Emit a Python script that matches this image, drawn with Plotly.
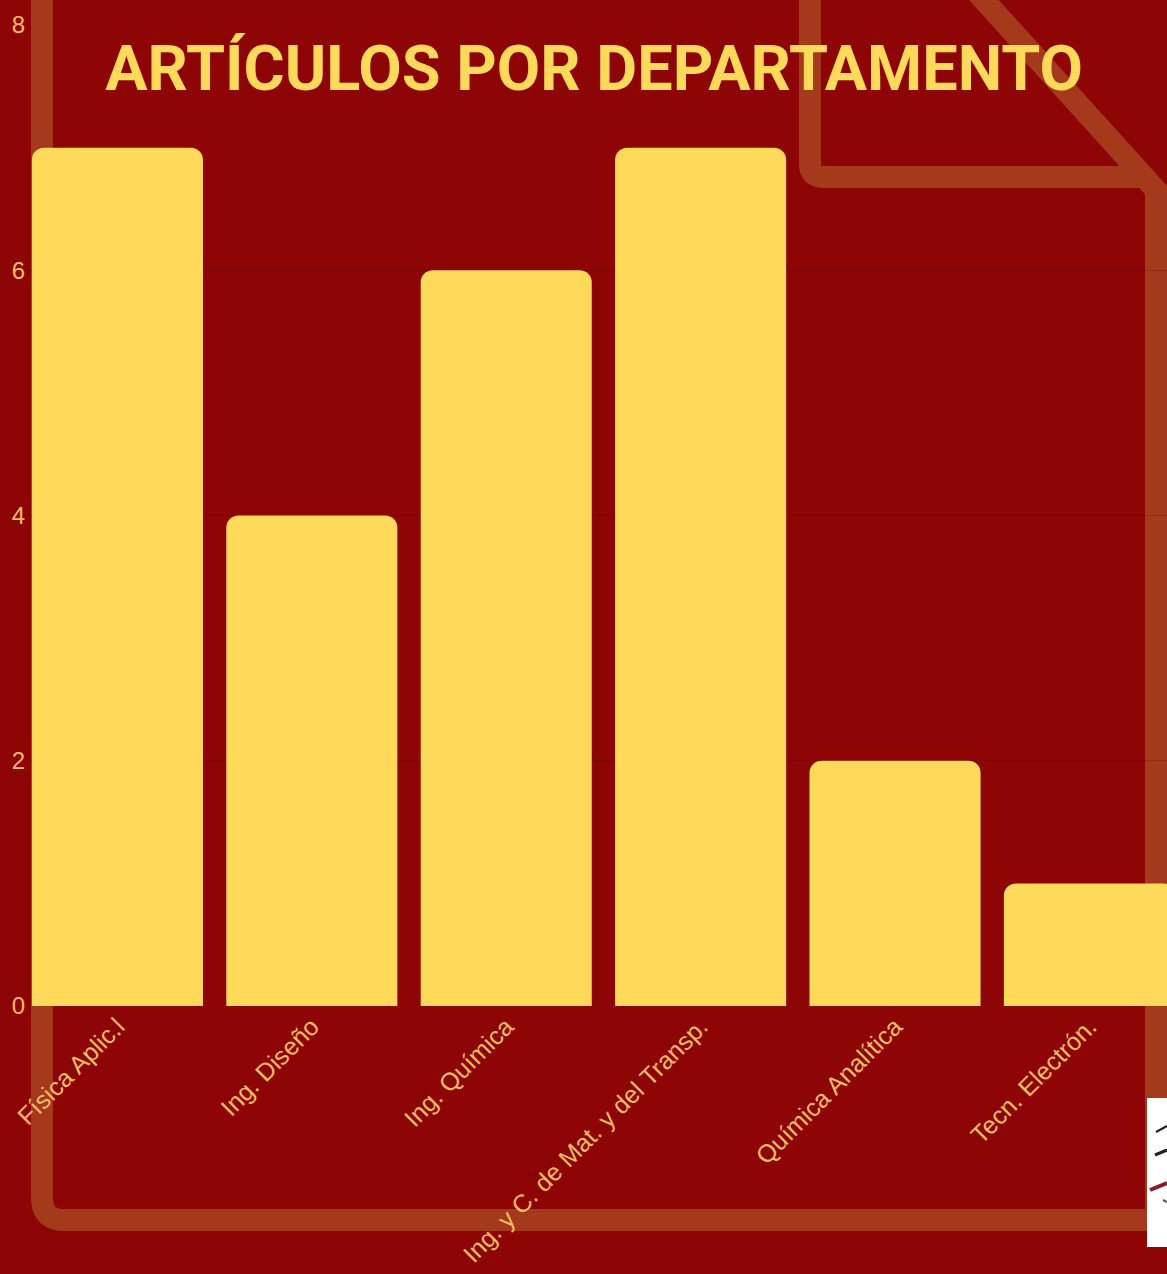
import plotly.graph_objects as go

# ---- data ----
departamentos = ["Física Aplic.l", "Ing. Diseño", "Ing. Química",
                 "Ing. y C. de Mat. y del Transp.", "Química Analítica", "Tecn. Electrón."]
articulos = [7, 4, 6, 7, 2, 1]
y_ticks = [0, 2, 4, 6, 8]

# ---- style / layout constants ----
W, H = 1167, 1274
L, R, T, B = 28, 0, 25, 268
PW, PH = W - L - R, H - T - B
BG = "#8E0505"
BAR = "#FFD95A"
LABEL = "#F5BE63"
STROKE = "#A5391B"


def px(x, y):
    """pixel -> paper coordinates"""
    return (x - L) / PW, 1 - (y - T) / PH


def path(points, close=False):
    parts = []
    for i, p in enumerate(points):
        if p[0] == "Q":
            (x1, y1), (x2, y2) = px(*p[1]), px(*p[2])
            parts.append(f"Q {x1:.5f},{y1:.5f} {x2:.5f},{y2:.5f}")
        else:
            x, y = px(*p)
            parts.append(("M " if i == 0 else "L ") + f"{x:.5f},{y:.5f}")
    s = " ".join(parts)
    return s + (" Z" if close else "")


fig = go.Figure(go.Bar(
    x=list(range(len(departamentos))), y=articulos,
    marker=dict(color=BAR, line=dict(width=0), cornerradius=12),
    hoverinfo="skip",
))

shapes = []
# document outline (decorative)
outline = path([(42, -300), (42, 1198), ("Q", (42, 1220), (64, 1220)),
                (1156, 1220), (1156, 190), (810, -192), (42, -192)])
shapes.append(dict(type="path", xref="paper", yref="paper", path=outline,
                   line=dict(color=STROKE, width=22), layer="below"))
fold = path([(810, -192), (810, 164), ("Q", (810, 177), (823, 177)), (1140, 177)])
shapes.append(dict(type="path", xref="paper", yref="paper", path=fold,
                   line=dict(color=STROKE, width=22), layer="below"))
# small logo corner
x0, y0 = px(1147, 1098)
x1, y1 = px(1175, 1247)
shapes.append(dict(type="rect", xref="paper", yref="paper", x0=x0, y0=y0, x1=x1, y1=y1,
                   fillcolor="white", line=dict(width=0), layer="above"))
for (a, b, c, d, col, w) in [(1156, 1132, 1167, 1126, "#222222", 2),
                              (1155, 1155, 1167, 1150, "#222222", 3),
                              (1150, 1190, 1167, 1183, "#8E1B2A", 4),
                              (1163, 1200, 1167, 1202, "#555555", 2)]:
    p0 = px(a, b); p1 = px(c, d)
    shapes.append(dict(type="line", xref="paper", yref="paper",
                       x0=p0[0], y0=p0[1], x1=p1[0], y1=p1[1],
                       line=dict(color=col, width=w), layer="above"))

fig.update_layout(
    width=W, height=H,
    margin=dict(l=L, r=R, t=T, b=B),
    paper_bgcolor=BG, plot_bgcolor=BG,
    bargap=0.12,
    showlegend=False,
    shapes=shapes,
    title=dict(text="ARTÍCULOS POR DEPARTAMENTO",
               font=dict(family="Roboto", size=63, color=BAR, weight="bold"),
               x=594 / W, xanchor="center", xref="container",
               y=1 - 68 / H, yanchor="middle", yref="container"),
    xaxis=dict(
        tickmode="array", tickvals=list(range(len(departamentos))), ticktext=departamentos,
        range=[-0.46, -0.46 + PW / 194.4],
        tickangle=-45, tickfont=dict(family="Liberation Sans", size=25, color=LABEL),
        showgrid=False, zeroline=False, showline=False, ticks="",
    ),
    yaxis=dict(
        range=[0, 8], tickvals=y_ticks,
        tickfont=dict(family="Liberation Sans", size=24, color=LABEL),
        showgrid=True, gridcolor="rgba(0,0,0,0.12)", gridwidth=1,
        zeroline=False, showline=False, ticks="", ticklabelstandoff=2,
    ),
)

fig.write_html("out.html", config={"displayModeBar": False},
               post_script="document.body.style.margin='0';")
